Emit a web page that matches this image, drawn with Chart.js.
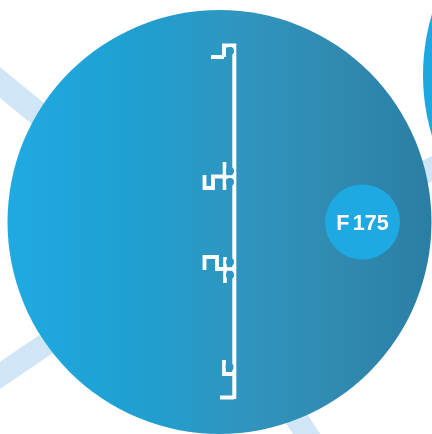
<!DOCTYPE html>
<html>
<head>
<meta charset="utf-8">
<style>
  html, body { margin: 0; padding: 0; background: #fff; }
  canvas { display: block; }
</style>
<script src="https://cdn.jsdelivr.net/npm/chart.js@4"></script>
</head>
<body>
<canvas id="chart" width="432" height="434"></canvas>
<script>
const label = "F 175";

// circles: x, y, r
const mainCircle = [{ x: 219.5, y: 222, r: 212 }];
const sideCircle = [{ x: 635, y: 75, r: 212 }];
const badgeCircle = [{ x: 362.5, y: 222, r: 37.5 }];

// pale bands behind the circle
const bandUpperLeft = [[-20, 66], [80, 148]];
const bandLowerLeft = [[-20, 389], [80, 321]];
const bandBottom = [[281, 395], [317, 450]];
const bandRight = [[400, 184], [440, 165]];

// white profile
const profileSpine = [[224, 57], [224, 45.5], [234.3, 45.5], [234.3, 399]];
const hookTop = [[211, 57], [224, 57]];
const clipUpper = [[204.5, 175], [204.5, 188], [213, 188], [213, 176.5], [224.5, 176.5]];
const clipUpperStub = [[224.5, 162], [224.5, 190]];
const clipUpperWeb = [[224.5, 177], [234, 177]];
const clipLower = [[204.5, 270], [204.5, 257], [217, 257], [217, 269], [225, 269]];
const clipLowerStub = [[225, 257], [225, 283]];
const clipLowerWeb = [[225, 269], [234, 269]];
const hookBottom = [[224, 360], [224, 374], [234, 374]];
const footBottom = [[220, 397.5], [234, 397.5]];

const profileDots = [
  { x: 230, y: 51, r: 4 },
  { x: 230, y: 171, r: 4 },
  { x: 230, y: 182, r: 4 },
  { x: 230, y: 262, r: 4 },
  { x: 230, y: 275, r: 4 },
  { x: 229.5, y: 367, r: 4 },
];

const toPoints = (pairs) => pairs.map(([x, y]) => ({ x, y }));

function lineSet(pairs, color, width) {
  return {
    type: "scatter",
    data: toPoints(pairs),
    showLine: true,
    borderColor: color,
    borderWidth: width,
    borderCapStyle: "butt",
    borderJoinStyle: "miter",
    pointRadius: 0,
    tension: 0,
  };
}

function mainGradient(context) {
  const { chart } = context;
  const g = chart.ctx.createLinearGradient(8, 0, 431, 0);
  g.addColorStop(0, "#20aae2");
  g.addColorStop(0.31, "#1f9fd0");
  g.addColorStop(0.55, "#3095bf");
  g.addColorStop(0.8, "#3089af");
  g.addColorStop(1, "#2a7ea4");
  return g;
}

const BAND = "#d0e6f6";
const WHITE = "#ffffff";

// paint order, bottom first
const layers = [
  lineSet(bandUpperLeft, BAND, 24),
  lineSet(bandLowerLeft, BAND, 22.5),
  lineSet(bandBottom, BAND, 23),
  lineSet(bandRight, BAND, 23),
  { type: "bubble", data: sideCircle, backgroundColor: "#1fa8e0", borderWidth: 0 },
  { type: "bubble", data: mainCircle, backgroundColor: mainGradient, borderWidth: 0 },
  { type: "bubble", data: badgeCircle, backgroundColor: "#1ea9e3", borderWidth: 0 },
  lineSet(profileSpine, WHITE, 4),
  lineSet(hookTop, WHITE, 4),
  lineSet(clipUpper, WHITE, 3.8),
  lineSet(clipUpperStub, WHITE, 3.6),
  lineSet(clipUpperWeb, WHITE, 3.6),
  lineSet(clipLower, WHITE, 3.8),
  lineSet(clipLowerStub, WHITE, 3.6),
  lineSet(clipLowerWeb, WHITE, 3.6),
  lineSet(hookBottom, WHITE, 3.8),
  lineSet(footBottom, WHITE, 4),
  { type: "bubble", data: profileDots, backgroundColor: "#2a97c6", borderWidth: 0 },
];

const badgeLabel = {
  id: "badgeLabel",
  afterDatasetsDraw(chart) {
    const { ctx, scales } = chart;
    ctx.save();
    ctx.fillStyle = "#ffffff";
    ctx.font = "bold 21.5px 'Liberation Sans', Arial, sans-serif";
    ctx.wordSpacing = "-2.5px";
    ctx.textAlign = "center";
    ctx.textBaseline = "middle";
    ctx.fillText(label, scales.x.getPixelForValue(badgeCircle[0].x), scales.y.getPixelForValue(badgeCircle[0].y + 2.5));
    ctx.restore();
  },
};

new Chart(document.getElementById("chart"), {
  type: "bubble",
  data: { datasets: layers.map((d, i) => ({ ...d, order: layers.length - i, clip: false })) },
  options: {
    responsive: false,
    animation: false,
    events: [],
    // big bubbles would otherwise shrink the chart area
    layout: { padding: 0, autoPadding: false },
    plugins: { legend: { display: false }, tooltip: { enabled: false } },
    scales: {
      x: { type: "linear", min: 0, max: 432, display: false },
      y: { type: "linear", min: 0, max: 434, reverse: true, display: false },
    },
  },
  plugins: [badgeLabel],
});
</script>
</body>
</html>
